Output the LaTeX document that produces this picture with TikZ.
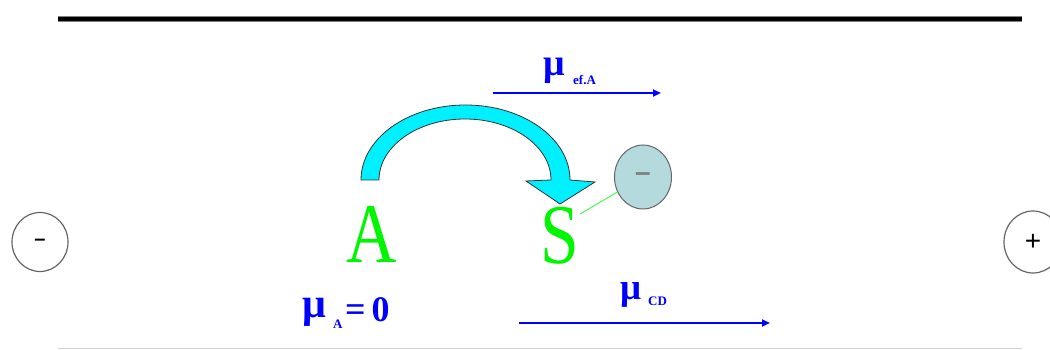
\documentclass[tikz,border=0pt]{standalone}
\usepackage{fontspec}
\setmainfont{Liberation Serif}
\newfontfamily\arialf{Liberation Sans}
\usetikzlibrary{shapes.geometric,arrows.meta}
\definecolor{lblue}{RGB}{0,0,255}
\definecolor{lgreen}{RGB}{0,245,0}
\definecolor{ecfill}{RGB}{180,218,222}
\definecolor{arcyan}{RGB}{0,240,255}
\tikzset{
  lab/.style={inner sep=0pt, anchor=base west, text=lblue, font=\bfseries},
  mu/.style={inner sep=0pt, anchor=base west, text=lblue},
  bigletter/.style={inner sep=0pt, anchor=base, text=lgreen, xscale=0.82, transform shape, font=\fontsize{85}{85}\selectfont},
  pole/.style={ellipse, draw=gray!80!black, line width=1.2pt, fill=white, inner sep=0pt},
  flow/.style={draw=lblue, line width=2pt, -{Triangle[length=8pt,width=7pt]}},
}
\begin{document}
\begin{tikzpicture}[x=1pt,y=1pt]
\useasboundingbox (0,0) rectangle (1050,350);
% top and bottom rules
\draw[gray, line width=6pt] (58,331) -- (1022,331);
\draw[black, line width=4pt] (58,331) -- (1022,331);
\draw[gray!35, line width=1.5pt] (58,1.5) -- (1022,1.5);
% poles
\node[pole, minimum width=56pt, minimum height=59pt] (neg) at (40,108) {\arialf\bfseries\fontsize{20}{20}\selectfont –};
\node[pole, minimum width=58pt, minimum height=62pt] (pos) at (1033,108) {\arialf\fontsize{28}{28}\selectfont +};
% letters
\node[bigletter] (A) at (372,87) {A};
\node[bigletter] (S) at (560,86) {S};
% curved arrow
\draw[fill=arcyan, draw=black!80, line width=0.8pt]
  (361,170) arc[start angle=180, end angle=0, x radius=104.5, y radius=75]
  -- (595,168) -- (560,146) -- (526,169) -- (551,170)
  arc[start angle=0, end angle=180, x radius=86, y radius=61] -- cycle;
% electron
\node[ellipse, draw=gray!80!black, fill=ecfill, line width=1pt, minimum width=57pt, minimum height=64pt, inner sep=0pt] (E) at (643,173) {\arialf\bfseries\fontsize{28}{28}\selectfont\textcolor{gray}{–}};
\coordinate (sl) at (580,136);
\draw[lgreen!70, line width=1pt] (sl) -- (E);
% top flow arrow
\coordinate (t1) at (493,257);
\coordinate (t2) at (661,257);
\draw[flow] (t1) -- (t2);
\node[mu, font=\bfseries\fontsize{38}{38}\selectfont] (mu1) at (543,274) {μ};
\node[lab, font=\bfseries\fontsize{13}{13}\selectfont] (sub1) at (573,265) {ef.A};
% bottom flow arrow
\coordinate (b1) at (519,27);
\coordinate (b2) at (770,27);
\draw[flow] (b1) -- (b2);
\node[mu, font=\bfseries\fontsize{37}{37}\selectfont] (mu2) at (620,50) {μ};
\node[lab, font=\bfseries\fontsize{13}{13}\selectfont] (sub2) at (648,44) {CD};
% mu_A = 0
\node[mu, font=\bfseries\fontsize{42}{42}\selectfont] (mu3) at (302,32) {μ};
\node[lab, font=\bfseries\fontsize{13}{13}\selectfont] (sub3) at (333,21) {A};
\node[lab, font=\bfseries\fontsize{36}{36}\selectfont] (eq) at (345,28) {=\,0};
\end{tikzpicture}
\end{document}
